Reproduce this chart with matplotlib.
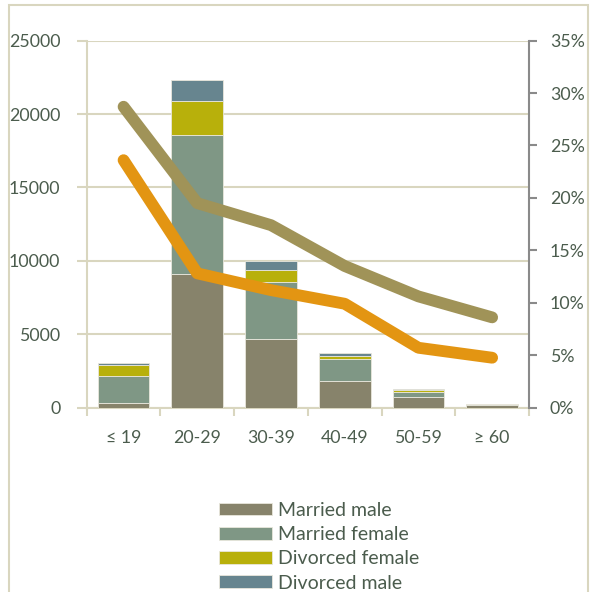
import matplotlib
matplotlib.use("Agg")
import matplotlib.pyplot as plt
import numpy as np
from matplotlib.patches import Rectangle
from matplotlib.ticker import FuncFormatter, FixedLocator

categories = ["≤ 19", "20-29", "30-39", "40-49", "50-59", "≥ 60"]
married_male = [320, 9100, 4680, 1840, 700, 170]
married_female = [1810, 9490, 3880, 1480, 390, 40]
divorced_female = [750, 2310, 840, 180, 70, 5]
divorced_male = [120, 1390, 590, 220, 70, 15]
line_khaki = [28.7, 19.5, 17.4, 13.5, 10.6, 8.6]
line_orange = [23.6, 12.8, 11.2, 9.9, 5.7, 4.75]

series_labels = ["Married male", "Married female", "Divorced female", "Divorced male"]
series_colors = ["#87836b", "#7f9785", "#b8b00b", "#67858f"]
txt = "#4b5c4d"
beige = "#d9d6bf"

plt.rcParams['font.family'] = ['Lato', 'DejaVu Sans']

W, H = 590, 592
fig = plt.figure(figsize=(W / 100, H / 100), dpi=100)
fig.patches.append(Rectangle((9 / W, -0.05), (588 - 9) / W, 1.05 - 5 / H,
                             transform=fig.transFigure, fill=False,
                             edgecolor=beige, linewidth=1.5))

x0, x1, ytop, ybot = 86.7, 529, 40.7, 407.5
ax = fig.add_axes([x0 / W, 1 - ybot / H, (x1 - x0) / W, (ybot - ytop) / H])
ax2 = ax.twinx()

x = np.arange(len(categories))
bottom = np.zeros(len(categories))
for vals, lab, col in zip([married_male, married_female, divorced_female, divorced_male],
                          series_labels, series_colors):
    ax.bar(x, vals, 0.7, bottom=bottom, color=col, label=lab,
           edgecolor="#e9e7dc", linewidth=0.6, zorder=3)
    bottom += np.array(vals)

ax.set_xlim(-0.5, len(categories) - 0.5)
ax.set_ylim(0, 25000)
ax.set_yticks(np.arange(0, 25001, 5000))
ax.grid(axis='y', color=beige, linewidth=1.5, zorder=0)
ax.set_axisbelow(True)
ax.set_xticks(x)
ax.set_xticklabels(categories)
ax.xaxis.set_minor_locator(FixedLocator(np.arange(-0.5, len(categories), 1)))
ax.tick_params(axis='x', which='major', length=0, pad=16, labelsize=12.8, labelcolor=txt)
ax.tick_params(axis='x', which='minor', length=6, width=1.5, color=beige, direction='out')
ax.tick_params(axis='y', length=7, width=1.5, color=beige, pad=12, labelsize=12.8, labelcolor=txt)
for s in ['top', 'right']:
    ax.spines[s].set_visible(False)
for s in ['left', 'bottom']:
    ax.spines[s].set_color(beige)
    ax.spines[s].set_linewidth(1.5)

ax2.plot(x, line_khaki, color="#a09358", linewidth=8.5, solid_capstyle='round',
         solid_joinstyle='round', zorder=4)
ax2.plot(x, line_orange, color="#e39512", linewidth=8.5, solid_capstyle='round',
         solid_joinstyle='round', zorder=4)
ax2.set_ylim(0, 35)
ax2.set_yticks(np.arange(0, 36, 5))
ax2.yaxis.set_major_formatter(FuncFormatter(lambda v, p: f"{int(v)}%"))
ax2.tick_params(axis='y', length=6, width=1.5, color="#8a8a8a", pad=9, labelsize=12.8, labelcolor=txt)
for s in ['top', 'left', 'bottom']:
    ax2.spines[s].set_visible(False)
ax2.spines['right'].set_color("#8a8a8a")
ax2.spines['right'].set_linewidth(1.5)

handles, labels = ax.get_legend_handles_labels()
leg = fig.legend(handles, labels, loc='upper left',
                 bbox_to_anchor=(219 / W, 1 - 502 / H), frameon=False,
                 fontsize=14, handlelength=2.75, handleheight=0.62,
                 handletextpad=0.3, labelspacing=0.37, borderpad=0, borderaxespad=0)
for t in leg.get_texts():
    t.set_color(txt)

fig.savefig("out.png", dpi=100)
